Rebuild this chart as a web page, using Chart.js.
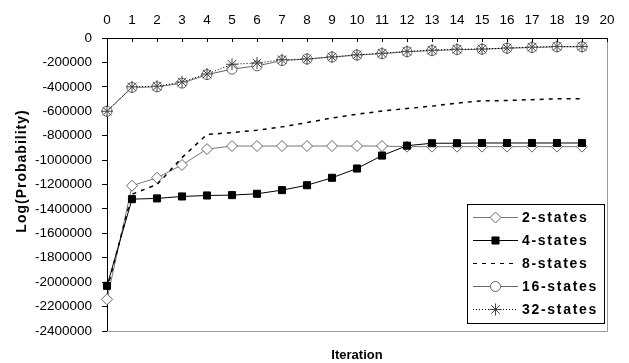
<!DOCTYPE html>
<html>
<head>
<meta charset="utf-8">
<script src="https://cdn.jsdelivr.net/npm/chart.js@4.4.1/dist/chart.umd.min.js"></script>
<style>
  html, body { margin: 0; padding: 0; background: #fff; }
  #wrap { width: 629px; height: 363px; position: relative; }
</style>
</head>
<body>
<div id="wrap"><canvas id="chart"></canvas></div>
<script>
// Data
const iterations = ['0', '1', '2', '3', '4', '5', '6', '7', '8', '9', '10',
                    '11', '12', '13', '14', '15', '16', '17', '18', '19', '20'];
const seriesNames = ['2-states', '4-states', '8-states', '16-states', '32-states'];

const states2 = [-2140000, -1210000, -1145000, -1040000, -910000, -885000, -885000, -885000, -885000, -885000,
                 -885000, -885000, -890000, -890000, -890000, -890000, -890000, -890000, -890000, -890000];
const states4 = [-2030000, -1320000, -1314000, -1298000, -1290000, -1287000, -1276000, -1246000, -1206000, -1145000,
                 -1069000, -963000, -882000, -862000, -862000, -860000, -860000, -860000, -860000, -860000];
const states8 = [-2060000, -1280000, -1200000, -980000, -790000, -775000, -755000, -728000, -693000, -655000,
                 -625000, -598000, -578000, -558000, -533000, -515000, -512000, -505000, -498000, -498000];
const states16 = [-600000, -405000, -400000, -370000, -300000, -255000, -228000, -185000, -172000, -156000,
                  -140000, -128000, -112000, -103000, -95000, -92000, -84000, -78000, -72000, -72000];
const states32 = [-600000, -400000, -395000, -360000, -295000, -215000, -205000, -178000, -172000, -155000,
                  -138000, -125000, -110000, -100000, -92000, -90000, -82000, -75000, -70000, -70000];

const yMin = -2400000, yMax = 0, yStep = 200000;

const FONT = '"Liberation Sans", Arial, sans-serif';

function drawMarker(ctx, style, r, x, y, fill, stroke) {
    ctx.save();
    ctx.setLineDash([]);
    ctx.lineWidth = 1;
    ctx.fillStyle = fill;
    ctx.strokeStyle = stroke;
    ctx.beginPath();
    if (style === 'rectRot') {
        ctx.moveTo(x, y - r); ctx.lineTo(x + r, y); ctx.lineTo(x, y + r); ctx.lineTo(x - r, y);
        ctx.closePath(); ctx.fill(); ctx.stroke();
    } else if (style === 'rect') {
        const s = r * Math.SQRT1_2;
        ctx.rect(x - s, y - s, 2 * s, 2 * s); ctx.fill(); ctx.stroke();
    } else if (style === 'circle') {
        ctx.arc(x, y, r, 0, Math.PI * 2); ctx.fill(); ctx.stroke();
    } else if (style === 'star') {
        const d = r * Math.SQRT1_2;
        ctx.moveTo(x, y - r); ctx.lineTo(x, y + r);
        ctx.moveTo(x - r, y); ctx.lineTo(x + r, y);
        ctx.moveTo(x - d, y - d); ctx.lineTo(x + d, y + d);
        ctx.moveTo(x - d, y + d); ctx.lineTo(x + d, y - d);
        ctx.stroke();
    }
    ctx.restore();
}

// frame, inner x ticks, axis titles and the boxed legend
const decorPlugin = {
    id: 'decor',
    afterDraw(chart) {
        const { ctx, chartArea: a, scales } = chart;
        ctx.save();

        // right and bottom edge of the plot area
        ctx.strokeStyle = '#9a9a9a';
        ctx.lineWidth = 1;
        ctx.beginPath();
        ctx.moveTo(a.right + 0.5, a.top);
        ctx.lineTo(a.right + 0.5, a.bottom + 0.5);
        ctx.lineTo(a.left, a.bottom + 0.5);
        ctx.stroke();

        // x ticks point down into the plot
        ctx.strokeStyle = '#000';
        ctx.beginPath();
        scales.x.ticks.forEach((t, i) => {
            const px = Math.round(scales.x.getPixelForTick(i)) + 0.5;
            ctx.moveTo(px, a.top);
            ctx.lineTo(px, a.top + 4);
        });
        ctx.stroke();

        // axis titles
        ctx.fillStyle = '#000';
        ctx.textAlign = 'center';
        ctx.textBaseline = 'middle';
        ctx.font = 'bold 13px ' + FONT;
        ctx.fillText('Iteration', (a.left + a.right) / 2, 355);

        ctx.save();
        ctx.translate(22, 171);
        ctx.rotate(-Math.PI / 2);
        ctx.font = 'bold 14px ' + FONT;
        ctx.letterSpacing = '1px';
        ctx.fillText('Log(Probability)', 0, 0);
        ctx.restore();

        // legend box
        const bx = a.right - 140, by = 204, bw = 137, bh = 119;
        ctx.fillStyle = '#fff';
        ctx.fillRect(bx, by, bw, bh);
        ctx.strokeStyle = '#000';
        ctx.strokeRect(bx + 0.5, by + 0.5, bw, bh);

        chart.data.datasets.forEach((ds, i) => {
            const y = by + 13 + i * 23;
            const x0 = bx + 6, x1 = bx + 51, xm = (x0 + x1) / 2;
            ctx.save();
            ctx.strokeStyle = ds.borderColor;
            ctx.lineWidth = 1;
            ctx.setLineDash(ds.borderDash || []);
            ctx.beginPath();
            ctx.moveTo(x0, y + 0.5);
            ctx.lineTo(x1, y + 0.5);
            ctx.stroke();
            ctx.restore();
            if (ds.pointRadius > 0) {
                drawMarker(ctx, ds.pointStyle, ds.pointRadius, xm, y + 0.5, ds.pointBackgroundColor, ds.pointBorderColor);
            }
            ctx.fillStyle = '#000';
            ctx.textAlign = 'left';
            ctx.textBaseline = 'middle';
            ctx.font = 'bold 14px ' + FONT;
            ctx.letterSpacing = '1.7px';
            ctx.fillText(ds.label, x1 + 4, y + 1);
            ctx.letterSpacing = '0px';
        });

        ctx.restore();
    }
};

const datasets = [
    { label: seriesNames[0], data: states2, borderColor: '#777', borderWidth: 1,
      pointStyle: 'rectRot', pointRadius: 5.5, pointBackgroundColor: '#fff', pointBorderColor: '#666', order: 4 },
    { label: seriesNames[1], data: states4, borderColor: '#000', borderWidth: 1,
      pointStyle: 'rect', pointRadius: 5, pointBackgroundColor: '#000', pointBorderColor: '#000', order: 3 },
    { label: seriesNames[2], data: states8, borderColor: '#000', borderWidth: 1.5, borderDash: [4, 5],
      pointRadius: 0, order: 2 },
    { label: seriesNames[3], data: states16, borderColor: '#666', borderWidth: 1,
      pointStyle: 'circle', pointRadius: 5, pointBackgroundColor: '#fff', pointBorderColor: '#666', order: 1 },
    { label: seriesNames[4], data: states32, borderColor: '#000', borderWidth: 1, borderDash: [1, 2],
      pointStyle: 'star', pointRadius: 6, pointBackgroundColor: '#fff', pointBorderColor: '#444', order: 0 }
];
datasets.forEach(d => { d.tension = 0; d.fill = false; d.pointBorderWidth = 1; });

new Chart(document.getElementById('chart'), {
    type: 'line',
    data: { labels: iterations, datasets },
    options: {
        responsive: true,
        maintainAspectRatio: false,
        animation: false,
        events: [],
        layout: { padding: { left: 0, right: 22, top: 0, bottom: 32 } },
        plugins: { legend: { display: false }, tooltip: { enabled: false } },
        scales: {
            x: {
                type: 'category',
                position: 'top',
                offset: false,
                grid: { display: true, drawOnChartArea: false, drawTicks: false, tickLength: 0 },
                border: { display: true, color: '#000', width: 1 },
                ticks: { color: '#000', font: { family: FONT, size: 13.5 }, padding: 10,
                         maxRotation: 0, autoSkip: false },
                afterFit: s => { s.height = 38; }
            },
            y: {
                min: yMin,
                max: yMax,
                grid: { drawOnChartArea: false, drawTicks: true, tickLength: 5, color: '#000' },
                border: { display: true, color: '#000', width: 1 },
                ticks: { stepSize: yStep, color: '#000', font: { family: FONT, size: 13.5 }, padding: 10,
                         callback: v => String(v) },
                afterFit: s => { s.width = 107; }
            }
        }
    },
    plugins: [decorPlugin]
});
</script>
</body>
</html>
